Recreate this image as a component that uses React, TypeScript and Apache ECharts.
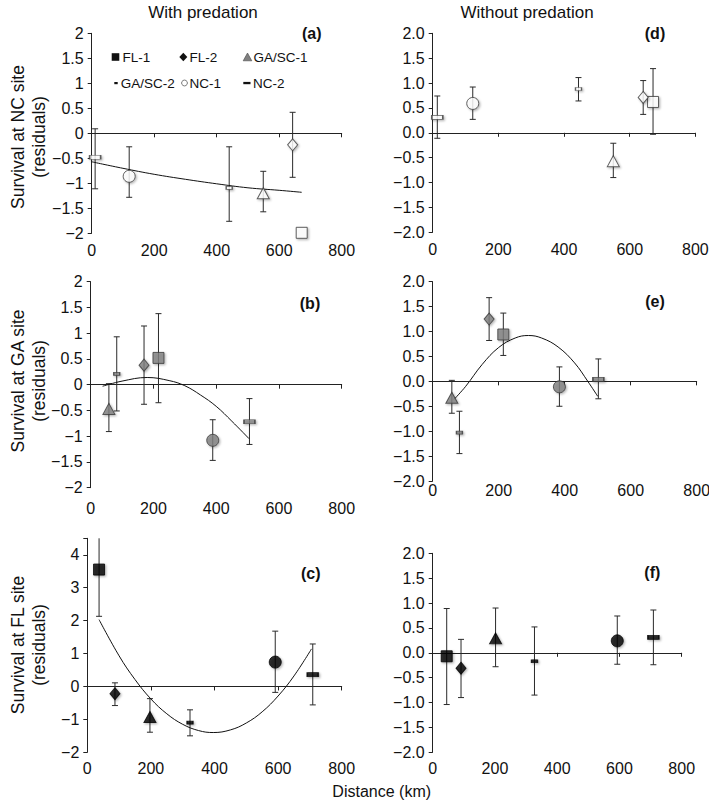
import React, { useEffect, useRef } from 'react';
import * as echarts from 'echarts';

// Population order used by all arrays below
const populations = ['FL-1', 'FL-2', 'GA/SC-1', 'GA/SC-2', 'NC-1', 'NC-2'];

// (a) NC site, with predation
const distA = [672, 643, 549, 440, 120, 11];
const meanA = [-1.99, -0.23, -1.2, -1.09, -0.86, -0.48];
const lowA = [null, -0.88, -1.57, -1.76, -1.28, -1.11];
const highA = [null, 0.42, -0.76, -0.27, -0.27, 0.09];
const fitAx = [0, 100, 200, 300, 400, 500, 600, 672];
const fitAy = [-0.57, -0.7, -0.82, -0.92, -1.01, -1.09, -1.14, -1.18];

// (b) GA site, with predation
const distB = [216, 170, 58, 83, 389, 506];
const meanB = [0.52, 0.38, -0.47, 0.21, -1.08, -0.72];
const lowB = [-0.35, -0.38, -0.91, -0.51, -1.47, -1.16];
const highB = [1.38, 1.14, 0.02, 0.93, -0.68, -0.27];
const fitBx = [38, 100, 180, 250, 300, 350, 400, 450, 505];
const fitBy = [-0.03, 0.07, 0.14, 0.08, -0.02, -0.2, -0.42, -0.71, -1.05];

// (c) FL site, with predation
const distC = [37, 87, 197, 323, 591, 709];
const meanC = [3.55, -0.22, -0.93, -1.1, 0.74, 0.36];
const lowC = [2.13, -0.58, -1.39, -1.5, -0.18, -0.56];
const highC = [4.97, 0.11, -0.37, -0.71, 1.68, 1.29];
const fitCx = [37, 100, 150, 200, 250, 300, 350, 396, 450, 500, 550, 600, 650, 705];
const fitCy = [2.03, 0.93, 0.21, -0.38, -0.83, -1.15, -1.34, -1.4, -1.32, -1.11, -0.77, -0.29, 0.32, 1.14];

// (d) NC site, without predation
const distD = [671, 641, 550, 444, 122, 14];
const meanD = [0.62, 0.71, -0.57, 0.88, 0.59, 0.31];
const lowD = [-0.03, 0.37, -0.9, 0.64, 0.27, -0.11];
const highD = [1.29, 1.05, -0.21, 1.11, 0.92, 0.74];

// (e) GA site, without predation
const distE = [214, 171, 58, 81, 384, 502];
const meanE = [0.94, 1.25, -0.33, -1.03, -0.11, 0.04];
const lowE = [0.52, 0.82, -0.64, -1.45, -0.5, -0.35];
const highE = [1.37, 1.68, 0.02, -0.6, 0.29, 0.45];
const fitEx = [65, 100, 150, 200, 250, 290, 330, 380, 430, 470, 500];
const fitEy = [-0.36, -0.1, 0.34, 0.68, 0.87, 0.92, 0.87, 0.69, 0.37, 0.0, -0.3];

// (f) FL site, without predation
const distF = [45, 91, 202, 327, 593, 709];
const meanF = [-0.07, -0.31, 0.29, -0.17, 0.24, 0.31];
const lowF = [-1.04, -0.9, -0.28, -0.85, -0.23, -0.24];
const highF = [0.89, 0.27, 0.9, 0.52, 0.74, 0.86];

const xTickValues = [0, 200, 400, 600, 800];
const columnTitles = ['With predation', 'Without predation'];
const yNames = ['Survival at NC site\n(residuals)', 'Survival at GA site\n(residuals)', 'Survival at FL site\n(residuals)'];
const panelLetters = ['(a)', '(b)', '(c)', '(d)', '(e)', '(f)'];
const xName = 'Distance (km)';

const FONT = '"Liberation Sans", Arial, Helvetica, sans-serif';

const siteFill: Record<string, string> = { NC: '#ffffff', GA: '#808080', FL: '#000000' };
const siteStroke: Record<string, string> = { NC: '#3a3a3a', GA: '#3a3a3a', FL: '#000000' };

const markerSymbol = ['rect', 'diamond', 'triangle', 'rect', 'circle', 'rect'];
const markerSize: any[] = [11, [10, 12], [12, 11], [6, 3], 12, [11, 4]];

type Panel = {
  dist: number[]; mean: number[]; low: (number | null)[]; high: (number | null)[];
  fitX?: number[]; fitY?: number[]; site: string;
  grid: any; ymin: number; ymax: number; interval: number; fmt: (v: number) => string; labelMargin: number;
};

const fmtPlain = (v: number) => (v > 4.01 ? '' : String(v).replace('-', '\u2212'));
const fmtOne = (v: number) => v.toFixed(1).replace('-', '\u2212');

const panels: Panel[] = [
  { dist: distA, mean: meanA, low: lowA, high: highA, fitX: fitAx, fitY: fitAy, site: 'NC',
    grid: { left: 91.7, top: 33.3, width: 250, height: 200 }, ymin: -2, ymax: 2, interval: 0.5, fmt: fmtPlain, labelMargin: 9 },
  { dist: distB, mean: meanB, low: lowB, high: highB, fitX: fitBx, fitY: fitBy, site: 'GA',
    grid: { left: 90.7, top: 281.7, width: 251, height: 206 }, ymin: -2, ymax: 2, interval: 0.5, fmt: fmtPlain, labelMargin: 12.5 },
  { dist: distC, mean: meanC, low: lowC, high: highC, fitX: fitCx, fitY: fitCy, site: 'FL',
    grid: { left: 87.3, top: 538.3, width: 254.4, height: 214 }, ymin: -2, ymax: 4.5, interval: 1, fmt: fmtPlain, labelMargin: 8 },
  { dist: distD, mean: meanD, low: lowD, high: highD, site: 'NC',
    grid: { left: 432.7, top: 33.3, width: 262.7, height: 199 }, ymin: -2, ymax: 2, interval: 0.5, fmt: fmtOne, labelMargin: 9.5 },
  { dist: distE, mean: meanE, low: lowE, high: highE, fitX: fitEx, fitY: fitEy, site: 'GA',
    grid: { left: 432.7, top: 281.7, width: 264, height: 199.3 }, ymin: -2, ymax: 2, interval: 0.5, fmt: fmtOne, labelMargin: 1.5 },
  { dist: distF, mean: meanF, low: lowF, high: highF, site: 'FL',
    grid: { left: 432.7, top: 553.3, width: 249, height: 199 }, ymin: -2, ymax: 2, interval: 0.5, fmt: fmtOne, labelMargin: 8 },
];

const letterPos = [[311.7, 33.5], [310, 303.3], [310.7, 573.3], [655, 33.5], [655, 301.7], [652.3, 572.3]];
const yNamePos = [[28.5, 137], [28.5, 381], [28.5, 645]];

function buildOption() {
  const LINE = '#222';
  const grid: any[] = [];
  const xAxis: any[] = [];
  const yAxis: any[] = [];
  const series: any[] = [];

  panels.forEach((p, i) => {
    grid.push({ ...p.grid, containLabel: false, outerBoundsMode: 'none' });
    // label axis at bottom
    xAxis.push({
      type: 'value', gridIndex: i, min: 0, max: 800, interval: 200, position: 'bottom',
      axisLine: { show: false, onZero: false }, axisTick: { show: false }, splitLine: { show: false },
      axisLabel: { show: true, margin: p.labelMargin, color: '#111', fontSize: 16, fontFamily: FONT },
    });
    // zero line axis with ticks
    xAxis.push({
      type: 'value', gridIndex: i, min: 0, max: 800, interval: 200, position: 'bottom',
      axisLine: { show: true, onZero: true, lineStyle: { color: LINE, width: 1 } },
      axisTick: { show: true, inside: false, length: 4, lineStyle: { color: LINE, width: 1 } },
      axisLabel: { show: false }, splitLine: { show: false },
    });
    yAxis.push({
      type: 'value', gridIndex: i, min: p.ymin, max: p.ymax, interval: p.interval,
      axisLine: { show: true, onZero: false, lineStyle: { color: LINE, width: 1 } },
      axisTick: { show: true, inside: false, length: 4, lineStyle: { color: LINE, width: 1 } },
      splitLine: { show: false },
      axisLabel: { margin: 8, color: '#111', fontSize: 16, fontFamily: FONT, formatter: p.fmt },
    });

    const ymax = p.ymax;
    series.push({
      type: 'custom', xAxisIndex: 2 * i, yAxisIndex: i, z: 3, clip: false,
      data: p.dist.map((d, k) => [d, p.low[k], p.high[k]]),
      renderItem: (params: any, api: any) => {
        const x = api.value(0);
        const lo = api.value(1);
        const hi = api.value(2);
        if (lo == null || hi == null || isNaN(lo) || isNaN(hi)) return null;
        const clipped = hi > ymax;
        const top = api.coord([x, Math.min(hi, ymax)]);
        const bot = api.coord([x, lo]);
        const w = 3;
        const st = { stroke: '#2a2a2a', lineWidth: 1 };
        const children: any[] = [
          { type: 'line', shape: { x1: top[0], y1: top[1], x2: bot[0], y2: bot[1] }, style: st },
          { type: 'line', shape: { x1: bot[0] - w, y1: bot[1], x2: bot[0] + w, y2: bot[1] }, style: st },
        ];
        if (!clipped) children.push({ type: 'line', shape: { x1: top[0] - w, y1: top[1], x2: top[0] + w, y2: top[1] }, style: st });
        return { type: 'group', children };
      },
    });

    if (p.fitX && p.fitY) {
      series.push({
        type: 'line', xAxisIndex: 2 * i, yAxisIndex: i, z: 4, smooth: 0.4, showSymbol: false, symbol: 'none',
        data: p.fitX.map((x, k) => [x, p.fitY![k]]),
        lineStyle: { color: '#111', width: 1 }, silent: true,
      });
    }

    populations.forEach((name, k) => {
      series.push({
        type: 'scatter', name, xAxisIndex: 2 * i, yAxisIndex: i, z: 6,
        symbol: markerSymbol[k], symbolSize: markerSize[k],
        data: [[p.dist[k], p.mean[k]]],
        itemStyle: {
          color: siteFill[p.site], borderColor: siteStroke[p.site], borderWidth: 1,
          shadowBlur: 2, shadowOffsetX: 1.2, shadowOffsetY: 1.2, shadowColor: 'rgba(0,0,0,0.35)',
        },
      });
    });
  });

  const graphic: any[] = [];
  // column titles
  graphic.push({ type: 'text', x: 203, y: 12, style: { text: columnTitles[0], fontSize: 17, fontFamily: FONT, fill: '#111', align: 'center', verticalAlign: 'middle' } });
  graphic.push({ type: 'text', x: 527, y: 12, style: { text: columnTitles[1], fontSize: 17, fontFamily: FONT, fill: '#111', align: 'center', verticalAlign: 'middle' } });
  // panel letters
  panelLetters.forEach((t, i) => {
    graphic.push({ type: 'text', x: letterPos[i][0], y: letterPos[i][1], style: { text: t, fontSize: 16, fontWeight: 'bold', fontFamily: FONT, fill: '#111', align: 'center', verticalAlign: 'middle' } });
  });
  // y axis names
  yNames.forEach((t, i) => {
    graphic.push({ type: 'text', x: yNamePos[i][0], y: yNamePos[i][1], rotation: Math.PI / 2,
      style: { text: t, fontSize: 17.5, lineHeight: 21, fontFamily: FONT, fill: '#111', align: 'center', verticalAlign: 'middle' } });
  });
  // x name
  graphic.push({ type: 'text', x: 381.7, y: 791, style: { text: xName, fontSize: 16, fontFamily: FONT, fill: '#111', align: 'center', verticalAlign: 'middle' } });

  // legend (panel a)
  const legFont = { fontSize: 13.5, fontFamily: FONT, fill: '#111', align: 'left', verticalAlign: 'middle' };
  const r1 = 57, r2 = 83;
  graphic.push({ type: 'rect', shape: { x: 111.7, y: r1 - 3.8, width: 7.6, height: 7.6 }, style: { fill: '#111' } });
  graphic.push({ type: 'text', x: 122.5, y: r1, style: { text: populations[0], ...legFont } });
  graphic.push({ type: 'polygon', shape: { points: [[183.3, r1 - 4.2], [187.3, r1], [183.3, r1 + 4.2], [179.3, r1]] }, style: { fill: '#111' } });
  graphic.push({ type: 'text', x: 189.5, y: r1, style: { text: populations[1], ...legFont } });
  graphic.push({ type: 'polygon', shape: { points: [[247.5, r1 - 4], [251.8, r1 + 3.8], [243.2, r1 + 3.8]] }, style: { fill: '#808080', stroke: '#444', lineWidth: 0.6 } });
  graphic.push({ type: 'text', x: 253.5, y: r1, style: { text: populations[2], ...legFont } });
  graphic.push({ type: 'rect', shape: { x: 114.3, y: r2 - 1, width: 3.4, height: 2.2 }, style: { fill: '#111' } });
  graphic.push({ type: 'text', x: 120.7, y: r2, style: { text: populations[3], ...legFont } });
  graphic.push({ type: 'circle', shape: { cx: 184.5, cy: r2, r: 2.9 }, style: { fill: '#fff', stroke: '#777', lineWidth: 1 } });
  graphic.push({ type: 'text', x: 189.5, y: r2, style: { text: populations[4], ...legFont } });
  graphic.push({ type: 'rect', shape: { x: 243.3, y: r2 - 1.1, width: 7.2, height: 2.3 }, style: { fill: '#111' } });
  graphic.push({ type: 'text', x: 253, y: r2, style: { text: populations[5], ...legFont } });

  return {
    animation: false,
    backgroundColor: '#ffffff',
    textStyle: { fontFamily: FONT },
    grid, xAxis, yAxis, series, graphic,
  };
}

export default function App() {
  const ref = useRef<HTMLDivElement>(null);
  useEffect(() => {
    if (!ref.current) return;
    const chart = echarts.init(ref.current, undefined, { renderer: 'svg' });
    chart.setOption(buildOption() as any);
    return () => chart.dispose();
  }, []);
  return <div ref={ref} style={{ position: 'fixed', left: 0, top: 0, width: 709, height: 803, background: '#fff' }} />;
}
